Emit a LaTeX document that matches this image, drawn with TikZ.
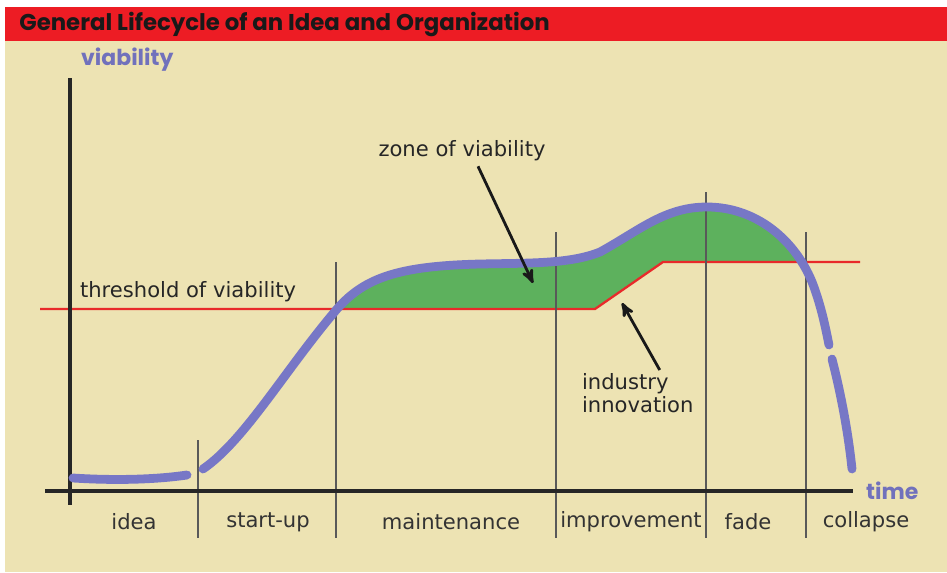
\documentclass[tikz,border=0pt]{standalone}
\usepackage{fontspec}
\setmainfont{DejaVu Sans}
\newfontfamily\gothfont{Poppins}
\usetikzlibrary{arrows,positioning}
\definecolor{panelbg}{HTML}{EDE3B3}
\definecolor{barred}{HTML}{ED1C24}
\definecolor{curveblue}{HTML}{7777C6}
\definecolor{zonegreen}{HTML}{5DB15D}
\definecolor{threshred}{HTML}{E82A2A}
\tikzset{
  every picture/.style = {
    x = 0.02cm,
    y = -0.02cm,
    >=stealth',
  }
  ,
  axis-line/.style = {
    draw = black!85,
    line width = 2.1pt
  }
  , % borders between the phases
  phase-line/.style = {
    draw = black!65,
    line width = 0.6pt
  }
  , % names of the phases
  label-phase/.style = {
    font = \fontsize{12}{14}\selectfont,
    text = black!80
  }
  ,
  label-note/.style = {
    font = \fontsize{12}{13.5}\selectfont,
    text = black!85,
    align = left,
    inner sep = 1pt
  }
  ,
  label-axis/.style = {
    font = \gothfont\bfseries\fontsize{12.5}{14}\selectfont,
    text = curveblue!95!black
  }
  ,
  viability/.style = {
    draw = curveblue,
    line width = 5pt,
    line cap = round,
    line join = round
  }
  ,
  pointer/.style = {
    ->,
    draw = black!90,
    line width = 1.6pt
  }
}
\newcommand{\growthpath}{(203,469) .. controls (245,440) and (285,370) .. (337,309)
  .. controls (365,277) and (400,266) .. (480,264)
  .. controls (530,263) and (570,264) .. (600,252)
  .. controls (640,230) and (665,207) .. (707,207)
  .. controls (760,207) and (800,245) .. (815,290)
  .. controls (822,310) and (826,330) .. (829,345)}

\begin{document}
\begin{tikzpicture}
\useasboundingbox (0,0) rectangle (947,572);
\fill[white] (0,0) rectangle (947,572);
\fill[panelbg] (5,41) rectangle (947,572);
\fill[barred] (5,7) rectangle (947,41);
\node[anchor=west, font=\gothfont\bfseries\fontsize{13}{15}\selectfont, text=black!90, inner sep=0pt] (title) at (19,24) {General Lifecycle of an Idea and Organization};

% zone of viability, between the curve and the threshold
\begin{scope}
  \clip \growthpath -- (829,560) -- (203,560) -- cycle;
  \fill[zonegreen] (320,309) -- (595,309) -- (663,262) -- (830,262) -- (830,150) -- (320,150) -- cycle;
\end{scope}

% threshold
\coordinate (t0) at (40,309);
\coordinate (t1) at (595,309);
\coordinate (t2) at (663,262);
\coordinate (t3) at (860,262);
\draw[threshred, line width=1.3pt] (t0) -- (t1) -- (t2) -- (t3);

% phases
\foreach \px/\ptop in {198/440, 336/262, 556/232, 706/192, 806/232}
  \draw[phase-line] (\px,\ptop) -- (\px,538);

% axes
\coordinate (origin) at (70,491);
\coordinate (ytop) at (70,78);
\coordinate (ybot) at (70,505);
\coordinate (xleft) at (45,491);
\coordinate (xright) at (853,491);
\draw[axis-line] (ytop) -- (ybot);
\draw[axis-line] (xleft) -- (xright);
\node[label-axis, anchor=west] (vlabel) at (75,60) {viability};
\node[label-axis, anchor=west, right = 4pt of xright] (tlabel) {time};

% the curve
\draw[viability] (73,478) .. controls (120,481) and (160,479) .. (187,475);
\draw[viability] \growthpath;
\draw[viability] (832,359) .. controls (840,390) and (848,430) .. (852,469);

% phase names
\node[label-phase] (idea) at (134,522) {idea};
\node[label-phase] (startup) at (268,522) {start-up};
\node[label-phase] (maint) at (451,522) {maintenance};
\node[label-phase] (improve) at (631,522) {improvement};
\node[label-phase] (fade) at (748,522) {fade};
\node[label-phase] (collapse) at (866,522) {collapse};

% notes
\node[label-note, anchor=west] (thresh) at (78,292) {threshold of viability};
\node[label-note] (zone) at (462,151) {zone of viability};
\node[label-note, anchor=north west] (innov) at (580,371) {industry\\innovation};
\coordinate (zonetip) at (533,283);
\coordinate (innovtip) at (622,303);
\draw[pointer] (zone.south) ++(16,3) -- (zonetip);
\draw[pointer] (innov.north) ++(22,-1) -- (innovtip);
\end{tikzpicture}
\end{document}
